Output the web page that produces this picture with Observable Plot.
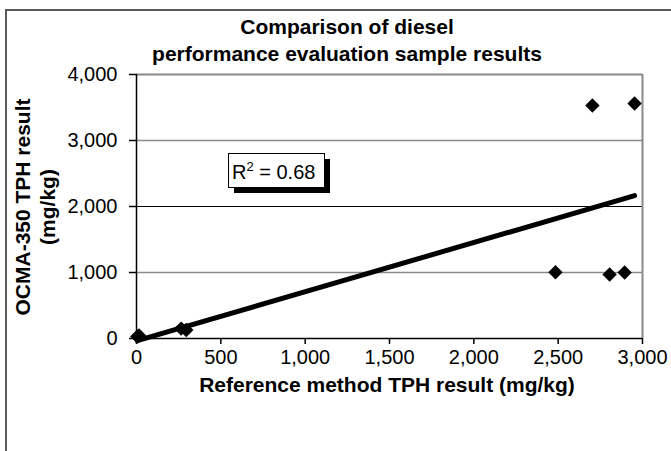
<!DOCTYPE html>
<html>
<head>
<meta charset="utf-8">
<script src="https://cdn.jsdelivr.net/npm/d3@7"></script>
<script src="https://cdn.jsdelivr.net/npm/@observablehq/plot@0.6"></script>
<style>
  html, body { margin: 0; padding: 0; background: #fff; }
  #wrap { position: relative; width: 671px; height: 451px; overflow: hidden; background: #fff; }
  #frame { position: absolute; left: 5px; top: 9px; width: 800px; height: 600px; border: 2px solid #5a5a5a; box-sizing: border-box; }
  #chart { position: absolute; left: 0; top: 0; }
</style>
</head>
<body>
<div id="wrap"><div id="frame"></div><div id="chart"></div></div>
<script>
// Data
const refX = [5, 15, 265, 295, 2484, 2703, 2805, 2894, 2953];
const ocmaY = [30, 45, 150, 130, 1004, 3530, 970, 1000, 3561];
const xTicks = [0, 500, 1000, 1500, 2000, 2500, 3000];
const yTicks = [0, 1000, 2000, 3000, 4000];
const titleLines = ["Comparison of diesel", "performance evaluation sample results"];
const xLabel = "Reference method TPH result (mg/kg)";
const yLabelLines = ["OCMA-350 TPH result", "(mg/kg)"];
const r2Text = ["R", "2", " = 0.68"];

const data = refX.map((x, i) => ({x, y: ocmaY[i]}));
const fmt = d3.format(",");
const FONT = "'Liberation Sans', Arial, sans-serif";

const W = 671, H = 451;
const chart = Plot.plot({
  width: W, height: H,
  marginLeft: 136, marginRight: 29, marginTop: 74, marginBottom: 113,
  x: {domain: [0, 3000]},
  y: {domain: [0, 4000]},
  style: {fontFamily: FONT, fontSize: "20px", color: "#000", background: "transparent", overflow: "visible"},
  marks: [
    Plot.ruleY([1000, 3000], {stroke: "#8a8a8a", strokeWidth: 1.5}),
    Plot.ruleY([2000], {stroke: "#000", strokeWidth: 1}),
    Plot.ruleY([4000], {stroke: "#8a8a8a", strokeWidth: 2}),
    Plot.ruleX([3000], {stroke: "#8a8a8a", strokeWidth: 2}),
    Plot.axisY({ticks: yTicks, tickFormat: fmt, tickSize: 7, tickPadding: 12, label: null, stroke: "#000", strokeOpacity: 1, strokeWidth: 1.5, fill: "#000", fontSize: 20}),
    Plot.axisX({ticks: xTicks, tickFormat: fmt, tickSize: 6, tickPadding: 5, label: null, stroke: "#000", strokeOpacity: 1, strokeWidth: 1.5, fill: "#000", fontSize: 20}),
    Plot.ruleX([0], {stroke: "#000", strokeWidth: 1.5}),
    Plot.ruleY([0], {stroke: "#000", strokeWidth: 1.5}),
    Plot.linearRegressionY(data, {x: "x", y: "y", ci: 0, stroke: "#000", strokeWidth: 5}),
    Plot.dot(data, {x: "x", y: "y", symbol: "diamond2", r: 6.5, fill: "#000", stroke: "none"})
  ]
});
document.getElementById("chart").appendChild(chart);

const svg = d3.select(chart);
// Title
svg.append("text")
  .attr("x", 347).attr("y", 34)
  .attr("text-anchor", "middle")
  .attr("font-family", FONT).attr("font-size", 21).attr("font-weight", "bold")
  .text(titleLines[0]);
svg.append("text")
  .attr("x", 347).attr("y", 61)
  .attr("text-anchor", "middle")
  .attr("font-family", FONT).attr("font-size", 21).attr("font-weight", "bold")
  .text(titleLines[1]);
// X label
svg.append("text")
  .attr("x", 387).attr("y", 392)
  .attr("text-anchor", "middle")
  .attr("font-family", FONT).attr("font-size", 21).attr("font-weight", "bold")
  .text(xLabel);
// Y label (two rotated lines)
yLabelLines.forEach((t, i) => {
  svg.append("text")
    .attr("transform", `translate(${30 + i * 25},207) rotate(-90)`)
    .attr("text-anchor", "middle")
    .attr("font-family", FONT).attr("font-size", 21).attr("font-weight", "bold")
    .text(t);
});
// R² box with shadow
const g = svg.append("g").attr("text-anchor", "start");
g.append("rect").attr("x", 234).attr("y", 159).attr("width", 96).attr("height", 34).attr("fill", "#000");
g.append("rect").attr("x", 228.5).attr("y", 153.5).attr("width", 96).attr("height", 34).attr("fill", "#fff").attr("stroke", "#000").attr("stroke-width", 1);
const tt = g.append("text").attr("x", 232).attr("y", 179)
  .attr("text-anchor", "start")
  .attr("font-family", FONT).attr("font-size", 20).attr("fill", "#000");
tt.append("tspan").text(r2Text[0]);
tt.append("tspan").attr("dy", -8).attr("font-size", 13).text(r2Text[1]);
tt.append("tspan").attr("dy", 8).text(r2Text[2]);
</script>
</body>
</html>
